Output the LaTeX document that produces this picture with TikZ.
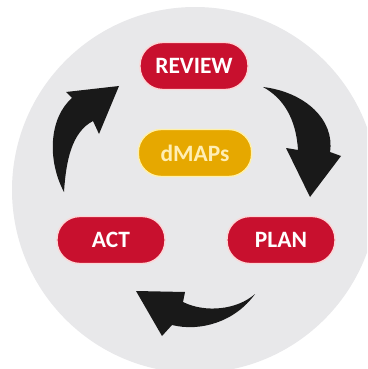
\documentclass[tikz,border=0pt]{standalone}
\usepackage{fontspec}
\setmainfont{Carlito}
\definecolor{discgray}{RGB}{232,232,234}
\definecolor{cyclered}{RGB}{200,16,46}
\definecolor{hubgold}{RGB}{230,168,0}
\definecolor{hubtext}{RGB}{255,238,180}
\definecolor{rimpink}{RGB}{252,214,214}
\definecolor{rimyellow}{RGB}{255,240,170}
\begin{document}
\begin{tikzpicture}[x=0.03cm, y=-0.03cm, font=\fontsize{20}{20}\selectfont\bfseries,
        line join=round, line cap=round,
        stage/.style={fill=cyclered, draw=rimpink, line width=1.2pt, text=white,
            rounded corners=0.68cm, minimum width=3.24cm, minimum height=1.41cm, inner sep=0pt},
        hub/.style={stage, fill=hubgold, draw=rimyellow, text=hubtext, minimum width=3.4cm}]
        \useasboundingbox (0,0) rectangle (367,369);
        \clip (0,0) rectangle (367,369);
        \fill[discgray] (195,190) circle (183);
        
        \node[stage] (review) at (194,66) {REVIEW};
        \node[hub] (dmaps) at (195,153) {dMAPs};
        \node[stage] (act) at (111,240) {ACT};
        \node[stage] (plan) at (281,240) {PLAN};
        
        %\draw[gray!0] (0,0) grid[step=20] (367,369);
        % review -> plan
        \fill[black!90] (263,87) .. controls (305,92) and (335,120) .. (330,152)
            -- (341,156) -- (310,197) -- (286,148) -- (298,150)
            .. controls (296,118) and (283,98) .. cycle;
        % plan -> act
        \fill[black!90] (255,294) .. controls (235,322) and (200,332) .. (172,325)
            -- (162,336) -- (136,291) -- (185,292) -- (183,302)
            .. controls (205,313) and (237,310) .. cycle;
        % act -> review
        \fill[black!90] (64,192) .. controls (47,160) and (49,118) .. (72,98)
            -- (66,92) -- (119,86) -- (99,134) -- (93,121)
            .. controls (72,132) and (66,160) .. cycle;
    \end{tikzpicture}
\end{document}
